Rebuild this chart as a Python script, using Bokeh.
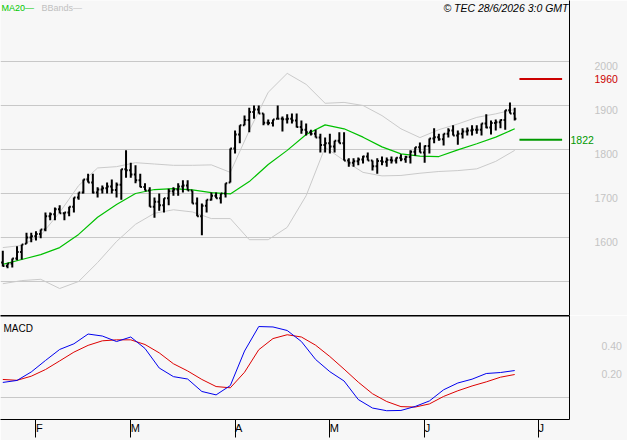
from bokeh.plotting import figure
from bokeh.models import (Range1d, FixedTicker, LinearAxis, Label, CustomJSTickFormatter)
from bokeh.layouts import column
from bokeh.embed import file_html
from bokeh.resources import INLINE

# ---------------- data ----------------
bar_open = [1543, 1535, 1541, 1552, 1567, 1586, 1600, 1603, 1608, 1618,
            1648, 1653, 1664, 1655, 1657, 1670, 1691, 1702, 1732, 1725,
            1702, 1709, 1712, 1716, 1708, 1720, 1755, 1753, 1743, 1730,
            1715, 1707, 1670, 1681, 1673, 1689, 1705, 1709, 1716, 1718,
            1707, 1677, 1648, 1672, 1686, 1695, 1689, 1700, 1725, 1802,
            1834, 1855, 1867, 1885, 1891, 1882, 1861, 1860, 1870, 1870,
            1869, 1870, 1866, 1851, 1845, 1839, 1836, 1827, 1810, 1814,
            1807, 1820, 1814, 1775, 1770, 1773, 1777, 1784, 1775, 1762,
            1774, 1772, 1776, 1775, 1781, 1778, 1783, 1795, 1805, 1793,
            1808, 1825, 1828, 1823, 1836, 1843, 1832, 1836, 1841, 1843,
            1845, 1845, 1859, 1850, 1860, 1862, 1867, 1889, 1882]
bar_high = [1570, 1541, 1552, 1580, 1584, 1611, 1611, 1614, 1618, 1657,
            1657, 1668, 1673, 1657, 1670, 1691, 1702, 1732, 1745, 1745,
            1714, 1718, 1725, 1732, 1725, 1755, 1798, 1770, 1764, 1745,
            1723, 1714, 1691, 1700, 1689, 1711, 1714, 1723, 1730, 1730,
            1707, 1691, 1677, 1686, 1702, 1702, 1700, 1723, 1802, 1843,
            1855, 1877, 1895, 1900, 1900, 1882, 1868, 1868, 1900, 1875,
            1880, 1882, 1882, 1866, 1859, 1845, 1845, 1836, 1827, 1836,
            1820, 1839, 1839, 1780, 1780, 1782, 1786, 1793, 1775, 1780,
            1784, 1782, 1784, 1782, 1789, 1786, 1798, 1805, 1816, 1809,
            1825, 1848, 1836, 1836, 1848, 1855, 1843, 1848, 1850, 1855,
            1855, 1859, 1880, 1866, 1868, 1868, 1889, 1907, 1895]
bar_low = [1534, 1530, 1532, 1548, 1550, 1586, 1589, 1593, 1598, 1614,
           1639, 1639, 1655, 1639, 1648, 1657, 1686, 1700, 1725, 1700,
           1691, 1700, 1700, 1700, 1691, 1686, 1736, 1736, 1723, 1714,
           1707, 1670, 1645, 1661, 1657, 1673, 1695, 1695, 1702, 1707,
           1677, 1648, 1605, 1657, 1684, 1689, 1677, 1691, 1725, 1791,
           1814, 1855, 1839, 1870, 1882, 1855, 1855, 1852, 1870, 1841,
           1859, 1859, 1850, 1836, 1832, 1832, 1827, 1793, 1793, 1791,
           1793, 1814, 1775, 1761, 1761, 1764, 1768, 1775, 1752, 1745,
           1764, 1761, 1768, 1768, 1773, 1770, 1768, 1786, 1793, 1770,
           1791, 1814, 1820, 1809, 1827, 1832, 1811, 1825, 1832, 1832,
           1836, 1832, 1848, 1834, 1843, 1848, 1845, 1882, 1866]
bar_close = [1535, 1541, 1552, 1567, 1584, 1600, 1603, 1608, 1618, 1648,
             1653, 1664, 1655, 1657, 1670, 1691, 1702, 1732, 1725, 1702,
             1709, 1712, 1716, 1708, 1720, 1755, 1753, 1743, 1730, 1715,
             1707, 1670, 1681, 1673, 1689, 1705, 1709, 1716, 1718, 1707,
             1677, 1648, 1672, 1686, 1695, 1689, 1700, 1723, 1802, 1834,
             1855, 1867, 1885, 1891, 1882, 1861, 1860, 1868, 1870, 1869,
             1870, 1866, 1851, 1845, 1839, 1836, 1827, 1810, 1814, 1807,
             1820, 1814, 1775, 1770, 1773, 1777, 1784, 1775, 1762, 1774,
             1772, 1776, 1775, 1781, 1778, 1783, 1795, 1805, 1793, 1808,
             1825, 1828, 1823, 1836, 1843, 1832, 1836, 1841, 1843, 1845,
             1845, 1859, 1850, 1860, 1862, 1867, 1889, 1882, 1870]

ind_idx = [0, 4, 8, 12, 16, 20, 24, 28, 32, 36, 40, 44, 48, 52,
           56, 60, 64, 68, 72, 76, 80, 84, 88, 92, 96, 100, 104, 108]
ma20 = [1539, 1550, 1561, 1577, 1607, 1646, 1675, 1700, 1709, 1711, 1708, 1702, 1699, 1727,
        1766, 1798, 1834, 1856, 1847, 1828, 1806, 1790, 1785, 1784, 1799, 1813, 1828, 1847]
bb_upper = [1577, 1582, 1605, 1657, 1718, 1758, 1761, 1770, 1767, 1764, 1764, 1765, 1748, 1843,
            1930, 1973, 1948, 1905, 1907, 1900, 1877, 1847, 1827, 1845, 1858, 1873, 1881, 1891]
bb_lower = [1495, 1502, 1505, 1484, 1500, 1543, 1591, 1630, 1655, 1663, 1658, 1643, 1643, 1595,
            1595, 1623, 1695, 1805, 1775, 1748, 1740, 1741, 1746, 1750, 1752, 1756, 1773, 1798]

macd_idx = [0, 3, 6, 9, 12, 15, 18, 21, 24, 27, 30, 33, 36, 39, 42, 45, 48, 51, 54,
            57, 60, 63, 66, 69, 72, 75, 78, 81, 84, 87, 90, 93, 96, 99, 102, 105, 108]
macd_line = [0.110, 0.124, 0.184, 0.265, 0.343, 0.383, 0.452, 0.438, 0.399, 0.431, 0.350,
             0.212, 0.151, 0.134, 0.046, 0.022, 0.088, 0.332, 0.505, 0.502, 0.477, 0.399,
             0.272, 0.186, 0.120, -0.011, -0.071, -0.090, -0.088, -0.060, -0.021, 0.058,
             0.106, 0.133, 0.173, 0.180, 0.194]
macd_signal = [0.131, 0.125, 0.154, 0.201, 0.262, 0.324, 0.372, 0.404, 0.411, 0.411, 0.378,
               0.319, 0.242, 0.191, 0.131, 0.081, 0.072, 0.182, 0.341, 0.420, 0.447, 0.431,
               0.373, 0.293, 0.204, 0.112, 0.030, -0.025, -0.061, -0.064, -0.042, 0.011,
               0.051, 0.085, 0.114, 0.147, 0.166]

month_tick_idx = [7, 27, 49, 69, 89, 113]
month_labels = ["F", "M", "A", "M", "J", "J"]
price_ticks = [1600, 1700, 1800, 1900, 2000]
price_grid = [1500, 1600, 1700, 1800, 1900, 2000]
macd_ticks = [0.2, 0.4]
macd_grid = [0.0]
resistance = 1960
support = 1822
level_span = [109, 118]
legend_texts = ["MA20\u2014", "BBands\u2014"]
credit = "\u00a9 TEC 28/6/2026 3:0 GMT"

# ---------------- style ----------------
FRAME_W = 569
A_H = 315
B_H = 104
BG = "#f7f7f7"
GRID = "#c8c8c8"
LBL = "#c4c4c4"
FONT = "Liberation Sans"
FS = "10.5px"
TICK = 0.35
LABEL_DROP_PX = 4.5      # value labels sit just below their grid line

x_range = Range1d(-0.485, 119.56)
y_main = Range1d(1422.7, 2138.6)
y_macd = Range1d(-0.152, 0.583)
main_units_per_px = (y_main.end - y_main.start) / A_H
macd_units_per_px = (y_macd.end - y_macd.start) / B_H


def plain_axis(axis):
    axis.major_tick_out = 0
    axis.major_tick_in = 0
    axis.minor_tick_out = 0
    axis.minor_tick_in = 0
    axis.major_label_text_font = FONT
    axis.major_label_text_font_size = FS


A = figure(frame_width=FRAME_W, frame_height=A_H, x_range=x_range, y_range=y_main,
           output_backend="svg", toolbar_location=None,
           y_axis_location="right", x_axis_location=None,
           min_border_left=0, min_border_right=58, min_border_top=0, min_border_bottom=0,
           background_fill_color=BG, border_fill_color=BG, outline_line_color=None)

# axis next to the frame: carries the border line and the green support value
ax1 = A.yaxis[0]
plain_axis(ax1)
ax1.ticker = FixedTicker(ticks=[support])
ax1.axis_line_color = "black"
ax1.major_label_standoff = 1
ax1.major_label_text_color = "#009900"

# price scale labels (gray), just below each grid line
drop = LABEL_DROP_PX * main_units_per_px
ax2 = LinearAxis(ticker=FixedTicker(ticks=[t - drop for t in price_ticks]),
                 formatter=CustomJSTickFormatter(code="return String(Math.round(tick / 100) * 100);"),
                 axis_line_color=None, major_label_standoff=-2, major_label_text_color=LBL)
plain_axis(ax2)
A.add_layout(ax2, "right")

# red resistance value, pulled back into the price label column
ax3 = LinearAxis(ticker=FixedTicker(ticks=[resistance]), axis_line_color=None,
                 major_label_standoff=-26, major_label_text_color="#cc0000")
plain_axis(ax3)
A.add_layout(ax3, "right")

A.ygrid.ticker = FixedTicker(ticks=price_grid)
A.ygrid.grid_line_color = GRID
A.xgrid.visible = False

xs = list(range(len(bar_open)))
A.line(ind_idx, bb_upper, line_color="#cacaca", line_width=1)
A.line(ind_idx, bb_lower, line_color="#cacaca", line_width=1)
A.line(ind_idx, ma20, line_color="#00c000", line_width=1.2)
A.segment(x0=xs, y0=bar_low, x1=xs, y1=bar_high, line_color="black", line_width=2)
A.segment(x0=[i - TICK for i in xs], y0=bar_open, x1=xs, y1=bar_open,
          line_color="black", line_width=2)
A.segment(x0=xs, y0=bar_close, x1=[i + TICK for i in xs], y1=bar_close,
          line_color="black", line_width=2)

A.segment(x0=[level_span[0]], y0=[resistance], x1=[level_span[1]], y1=[resistance],
          line_color="#cc0000", line_width=2)
A.segment(x0=[level_span[0]], y0=[support], x1=[level_span[1]], y1=[support],
          line_color="#009900", line_width=2)

A.add_layout(Label(x=1, y=A_H - 2, x_units="screen", y_units="screen",
                   text=legend_texts[0], text_color="#00c800", text_font=FONT,
                   text_font_size="9px", text_baseline="top"))
A.add_layout(Label(x=41, y=A_H - 2, x_units="screen", y_units="screen",
                   text=legend_texts[1], text_color="#c0c0c0", text_font=FONT,
                   text_font_size="9px", text_baseline="top"))
A.add_layout(Label(x=568, y=A_H - 1, x_units="screen", y_units="screen",
                   text=credit, text_color="black", text_font=FONT,
                   text_font_style="italic", text_font_size="10.5px",
                   text_baseline="top", text_align="right",
                   background_fill_color=BG))

# ---------------- MACD panel ----------------
B = figure(frame_width=FRAME_W, frame_height=B_H, x_range=x_range, y_range=y_macd,
           output_backend="svg", toolbar_location=None,
           y_axis_location="right", x_axis_location="below",
           min_border_left=0, min_border_right=58, min_border_top=0, min_border_bottom=21,
           background_fill_color=BG, border_fill_color=BG, outline_line_color=None)

mdrop = LABEL_DROP_PX * macd_units_per_px
by = B.yaxis[0]
plain_axis(by)
by.ticker = FixedTicker(ticks=[t - mdrop for t in macd_ticks])
by.formatter = CustomJSTickFormatter(code="return (Math.round(tick * 10) / 10).toFixed(2);")
by.axis_line_color = "black"
by.major_label_standoff = 32
by.major_label_text_color = LBL

# month boundaries with their letters placed to the right of each tick
bx = B.xaxis[0]
bx.ticker = FixedTicker(ticks=month_tick_idx)
bx.major_label_overrides = {t: l for t, l in zip(month_tick_idx, month_labels)}
bx.major_tick_out = 18
bx.major_tick_in = 0
bx.minor_tick_out = 0
bx.minor_tick_in = 0
bx.axis_line_color = "black"
bx.major_tick_line_color = "black"
bx.major_label_orientation = -0.0001
bx.major_label_standoff = -10
bx.major_label_text_font = FONT
bx.major_label_text_font_size = "11px"
bx.major_label_text_color = "black"

top_axis = LinearAxis(ticker=FixedTicker(ticks=[]), axis_line_color="black", axis_line_width=2,
                      major_tick_out=0, major_tick_in=0, minor_tick_out=0, minor_tick_in=0,
                      major_label_standoff=0)
B.add_layout(top_axis, "above")

B.ygrid.ticker = FixedTicker(ticks=macd_grid)
B.ygrid.grid_line_color = GRID
B.xgrid.visible = False

B.line(macd_idx, macd_signal, line_color="#dd0000", line_width=1)
B.line(macd_idx, macd_line, line_color="#0000ee", line_width=1)

B.add_layout(Label(x=3, y=B_H - 7, x_units="screen", y_units="screen", text="MACD",
                   text_color="black", text_font=FONT, text_font_size="10px",
                   text_baseline="top"))

layout = column(A, B, spacing=0)
open("out.html", "w").write(file_html(layout, INLINE))
